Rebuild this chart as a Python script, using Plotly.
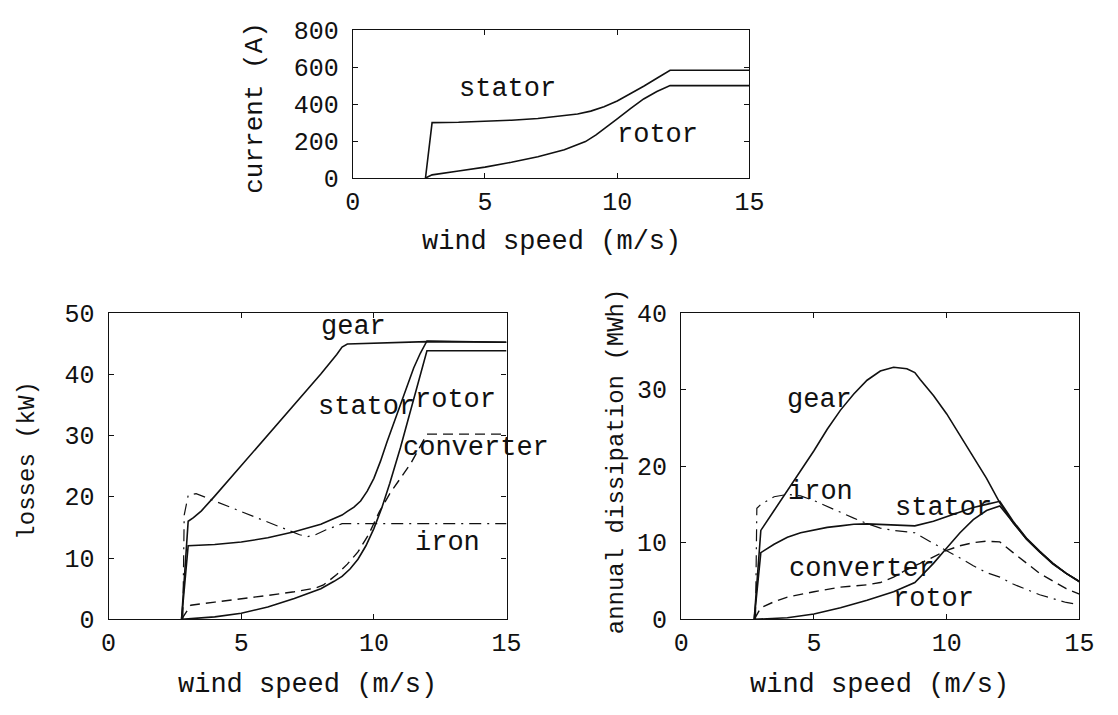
import plotly.graph_objects as go

# ---------------- data ----------------
# top: currents (A)
cur_stator_x = [2.75, 3.0, 4, 5, 6, 7, 8, 8.5, 9.0, 9.5, 10, 10.5, 11, 11.5, 12, 15]
cur_stator_y = [0, 300, 302, 306, 313, 322, 336, 346, 362, 386, 417, 455, 497, 540, 583, 583]
cur_rotor_x = [2.75, 3.0, 4, 5, 6, 7, 8, 8.8, 9.2, 9.6, 10, 10.5, 11, 11.5, 12, 15]
cur_rotor_y = [0, 17, 38, 59, 85, 115, 153, 197, 233, 275, 320, 376, 428, 468, 500, 500]

# bottom-left: losses (kW)
loss_gear_x = [2.75, 3.0, 3.2, 3.5, 4, 5, 6, 7, 8, 8.6, 8.8, 9.0, 10, 12, 15]
loss_gear_y = [0, 16, 16.6, 17.7, 20.1, 25.1, 30.1, 35.0, 40.0, 43.2, 44.4, 44.9, 45.0, 45.3, 45.2]
loss_stator_x = [2.75, 3.0, 4, 5, 6, 7, 8, 8.8, 9.0, 9.25, 9.5, 9.75, 10, 10.25, 10.5, 10.75, 11, 11.5, 11.75, 12, 15]
loss_stator_y = [0, 12, 12.2, 12.6, 13.3, 14.3, 15.5, 17, 17.6, 18.3, 19.3, 20.9, 23, 25.8, 29, 32, 35, 41, 43.4, 45.4, 45.2]
loss_rotor_x = [2.75, 3.0, 4, 5, 6, 7, 8, 8.5, 8.8, 9.1, 9.4, 9.7, 10, 10.3, 10.6, 11, 11.5, 11.8, 12, 15]
loss_rotor_y = [0, 0.1, 0.4, 1, 2, 3.4, 5, 6.2, 7, 8.2, 9.8, 12.0, 14.8, 18.2, 22.2, 28, 36, 41, 43.8, 43.8]
loss_conv_x = [2.75, 2.95, 3.1, 4, 5, 6, 7, 7.5, 7.8, 8.1, 8.6, 9.0, 9.4, 9.8, 10.2, 10.6, 11, 11.4, 12, 15]
loss_conv_y = [0, 1.2, 2.3, 2.8, 3.3, 3.9, 4.5, 4.9, 5.1, 5.6, 7.3, 9.0, 11, 13.8, 17.5, 20.5, 23, 25.5, 30.2, 30.2]
loss_iron_x = [2.8, 2.85, 3.0, 3.3, 4, 5, 6, 6.7, 7.2, 7.5, 7.8, 8.2, 8.8, 15]
loss_iron_y = [0, 17, 20.2, 20.5, 19.3, 17.6, 15.9, 14.6, 13.8, 13.5, 13.8, 14.6, 15.6, 15.6]

# bottom-right: annual dissipation (MWh)
ann_gear_x = [2.75, 3.0, 3.5, 4, 4.5, 5, 5.5, 6, 6.5, 7, 7.5, 8, 8.5, 8.8, 9, 9.5, 10, 10.5, 11, 11.5, 12, 12.5, 13, 13.5, 14, 14.5, 15]
ann_gear_y = [0, 11.6, 14.2, 16.8, 19.4, 22, 24.8, 27.3, 29.4, 31.2, 32.4, 32.9, 32.7, 32.2, 31.3, 29.2, 26.8, 24, 21.2, 18.4, 15.2, 12.6, 10.5, 8.8, 7.3, 6.0, 4.9]
ann_stator_x = [2.75, 3.0, 3.5, 4, 4.5, 5, 5.5, 6, 6.5, 7, 7.5, 8, 8.8, 9.5, 10, 10.5, 11, 11.5, 12, 12.5, 13, 13.5, 14, 14.5, 15]
ann_stator_y = [0, 8.7, 9.8, 10.7, 11.3, 11.7, 12.0, 12.2, 12.4, 12.45, 12.4, 12.3, 12.2, 12.8, 13.4, 14.0, 14.6, 15.0, 15.4, 12.8, 10.6, 8.9, 7.3, 6.0, 4.95]
ann_rotor_x = [2.75, 3.0, 4, 5, 6, 7, 8, 8.8, 9.5, 10, 10.5, 11, 11.5, 12, 12.5, 13, 13.5, 14, 14.5, 15]
ann_rotor_y = [0, 0.05, 0.2, 0.7, 1.5, 2.5, 3.6, 4.8, 7.3, 9.3, 11.3, 13.0, 14.2, 14.8, 12.6, 10.5, 8.8, 7.2, 6.0, 4.9]
ann_conv_x = [2.75, 2.9, 3.0, 3.5, 4, 5, 6, 7, 7.5, 8, 8.5, 9, 9.5, 10, 10.5, 11, 11.5, 12, 12.5, 13, 13.5, 14, 14.5, 15]
ann_conv_y = [0, 1.0, 1.5, 2.3, 2.9, 3.6, 4.2, 4.5, 4.8, 5.5, 6.5, 7.3, 8.2, 9.0, 9.6, 10.0, 10.2, 10.1, 8.7, 7.3, 6.0, 5.0, 4.0, 3.3]
ann_iron_x = [2.8, 2.85, 3.0, 3.5, 4, 4.5, 5, 5.5, 6, 6.5, 7, 7.5, 8, 8.8, 9.5, 10, 10.5, 11, 11.5, 12, 12.5, 13, 13.5, 14, 14.5, 15]
ann_iron_y = [0, 14.5, 15.0, 16.0, 16.3, 16.1, 15.5, 14.7, 13.9, 13.2, 12.5, 11.9, 11.6, 11.3, 9.9, 9.0, 8.0, 7.0, 6.1, 5.5, 4.6, 3.9, 3.2, 2.7, 2.2, 1.9]

x_ticks = [0, 5, 10, 15]
cur_ticks = [0, 200, 400, 600, 800]
loss_ticks = [0, 10, 20, 30, 40, 50]
ann_ticks = [0, 10, 20, 30, 40]

# curve labels: (text, x, y)
cur_labels = [("stator", 5.85, 483), ("rotor", 11.52, 232)]
loss_labels = [("gear", 9.25, 47.7), ("stator", 9.74, 34.6), ("rotor", 13.07, 35.7),
               ("converter", 13.86, 27.9), ("iron", 12.76, 12.5)]
ann_labels = [("gear", 5.2, 28.6), ("iron", 5.26, 16.6), ("stator", 9.87, 14.55),
              ("converter", 6.8, 6.6), ("rotor", 9.5, 2.6)]

# ---------------- styling ----------------
INK = "#111111"
FONT = "Courier New, Liberation Mono, monospace"
W, H = 1118, 715
SOLID = dict(color=INK, width=1.6)
DASH = dict(color=INK, width=1.4, dash="10px,6px")
DASHDOT = dict(color=INK, width=1.2, dash="12px,6px,2px,6px")

fig = go.Figure()

def add(x, y, line, xa, ya):
    fig.add_trace(go.Scatter(x=x, y=y, mode="lines", line=line, xaxis=xa, yaxis=ya,
                             showlegend=False, hoverinfo="skip"))

add(cur_stator_x, cur_stator_y, SOLID, "x", "y")
add(cur_rotor_x, cur_rotor_y, SOLID, "x", "y")

add(loss_gear_x, loss_gear_y, SOLID, "x2", "y2")
add(loss_stator_x, loss_stator_y, SOLID, "x2", "y2")
add(loss_rotor_x, loss_rotor_y, SOLID, "x2", "y2")
add(loss_conv_x, loss_conv_y, DASH, "x2", "y2")
add(loss_iron_x, loss_iron_y, DASHDOT, "x2", "y2")

add(ann_gear_x, ann_gear_y, SOLID, "x3", "y3")
add(ann_stator_x, ann_stator_y, SOLID, "x3", "y3")
add(ann_rotor_x, ann_rotor_y, SOLID, "x3", "y3")
add(ann_conv_x, ann_conv_y, DASH, "x3", "y3")
add(ann_iron_x, ann_iron_y, DASHDOT, "x3", "y3")

def px_x(p):
    return p / W

def px_y(p):
    return 1 - p / H

def axis(dom, rng, ticks, anchor, standoff):
    return dict(domain=dom, range=rng, tickvals=ticks, ticktext=[str(t) for t in ticks],
                showline=True, linecolor=INK, linewidth=1.2, mirror="allticks",
                ticks="inside", ticklen=5, tickwidth=1, tickcolor=INK,
                showgrid=False, zeroline=False, anchor=anchor, fixedrange=True,
                tickfont=dict(family=FONT, size=25, color=INK), ticklabelstandoff=standoff)

top_x = [px_x(352), px_x(757)]
top_y = [px_y(173), px_y(19)]
bl_x = [px_x(102.7), px_x(509)]
br_x = [px_x(687.3), px_x(1094)]
bot_y = [px_y(633), px_y(313.5)]

fig.update_layout(
    width=W, height=H,
    margin=dict(l=0, r=0, t=0, b=0),
    paper_bgcolor="white", plot_bgcolor="white",
    font=dict(family=FONT, color=INK),
    xaxis=axis(top_x, [0, 15], x_ticks, "y", 1),
    yaxis=axis(top_y, [0, 800], cur_ticks, "x", 8),
    xaxis2=axis(bl_x, [0, 15], x_ticks, "y2", 1),
    yaxis2=axis(bot_y, [0, 50], loss_ticks, "x2", 8),
    xaxis3=axis(br_x, [0, 15], x_ticks, "y3", 1),
    yaxis3=axis(bot_y, [0, 40], ann_ticks, "x3", 8),
)

ann = []
for refs, labels in (("", cur_labels), ("2", loss_labels), ("3", ann_labels)):
    for t, x, y in labels:
        ann.append(dict(text=t, x=x, y=y, xref="x" + refs, yref="y" + refs,
                        showarrow=False, xanchor="center", yanchor="middle",
                        font=dict(family=FONT, size=27, color=INK)))

# axis titles
def title(t, x, y, size, angle=0):
    ann.append(dict(text=t, x=px_x(x), y=px_y(y), xref="paper", yref="paper",
                    showarrow=False, xanchor="center", yanchor="middle", textangle=angle,
                    font=dict(family=FONT, size=size, color=INK)))

title("wind speed (m/s)", 554.5, 240, 27)
title("wind speed (m/s)", 306, 701, 27)
title("wind speed (m/s)", 890, 701, 27)
title("current (A)", 252, 100, 26, -90)
title("losses (kW)", 19, 468, 24, -90)
title("annual dissipation (MWh)", 621, 468, 24, -90)

fig.update_layout(annotations=ann)
fig.write_html("out.html")
